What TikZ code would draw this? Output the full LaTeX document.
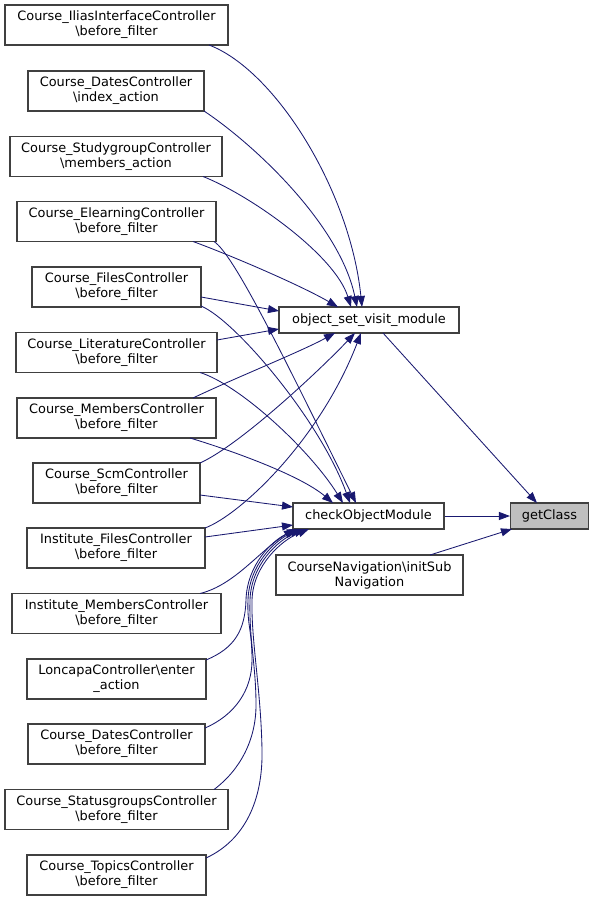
\documentclass[tikz,border=0pt]{standalone}
\usepackage{fontspec}
\setmainfont{DejaVu Sans}
\usetikzlibrary{arrows.meta,calc}
\definecolor{edgeblue}{HTML}{191970}
\definecolor{boxborder}{HTML}{404040}
\definecolor{hlfill}{HTML}{BFBFBF}
\tikzset{
  fn/.style={draw=boxborder, line width=1.1pt, fill=white, inner sep=0pt, align=center,
    font=\fontsize{12.9}{15}\selectfont},
  twoline/.style={fn, minimum height=40pt},
  oneline/.style={fn, minimum height=26pt},
  edge/.style={draw=edgeblue, line width=0.85pt, -{Triangle[length=11pt,width=8pt]}, fill=none},
}
\begin{document}
\begin{tikzpicture}[x=1pt,y=-1pt]
\path[use as bounding box, fill=white] (0,0) rectangle (595,901);

\node[twoline, minimum width=223pt] (n1) at (116.5,25) {Course\_IliasInterfaceController\\\textbackslash before\_filter};
\node[twoline, minimum width=176pt] (n2) at (116,91) {Course\_DatesController\\\textbackslash index\_action};
\node[twoline, minimum width=212pt] (n3) at (116,156.5) {Course\_StudygroupController\\\textbackslash members\_action};
\node[twoline, minimum width=199pt] (n4) at (116.5,221.5) {Course\_ElearningController\\\textbackslash before\_filter};
\node[twoline, minimum width=169pt] (n5) at (116.5,287) {Course\_FilesController\\\textbackslash before\_filter};
\node[twoline, minimum width=201pt] (n6) at (116.5,352.5) {Course\_LiteratureController\\\textbackslash before\_filter};
\node[twoline, minimum width=199pt] (n7) at (116.5,418) {Course\_MembersController\\\textbackslash before\_filter};
\node[twoline, minimum width=167pt] (n8) at (116.5,483) {Course\_ScmController\\\textbackslash before\_filter};
\node[twoline, minimum width=178pt] (n9) at (116,548) {Institute\_FilesController\\\textbackslash before\_filter};
\node[twoline, minimum width=209pt] (n10) at (116.5,613.5) {Institute\_MembersController\\\textbackslash before\_filter};
\node[twoline, minimum width=179pt] (n11) at (116.5,679) {LoncapaController\textbackslash enter\\\_action};
\node[twoline, minimum width=177pt] (n12) at (116.5,744) {Course\_DatesController\\\textbackslash before\_filter};
\node[twoline, minimum width=223pt] (n13) at (116.5,809.5) {Course\_StatusgroupsController\\\textbackslash before\_filter};
\node[twoline, minimum width=179pt] (n14) at (116.5,875) {Course\_TopicsController\\\textbackslash before\_filter};

\node[oneline, minimum width=180pt] (osvm) at (369,320) {object\_set\_visit\_module};
\node[oneline, minimum width=151pt] (com) at (368.5,516) {checkObjectModule};
\node[oneline, minimum width=78pt, fill=hlfill] (gc) at (549.5,516) {getClass};
\node[twoline, minimum width=187pt] (nav) at (369.5,575) {CourseNavigation\textbackslash initSub\\Navigation};

% edges to object_set_visit_module
\draw[edge] ($(n1)+(92.5,20)$) .. controls (275,70) and (350,190) .. ($(osvm)+(-7,-13)$);
\draw[edge] ($(n2)+(88,20)$) .. controls (255,145) and (340,225) .. ($(osvm)+(-12,-13)$);
\draw[edge] ($(n3)+(87,20)$) .. controls (250,195) and (335,255) .. ($(osvm)+(-18,-13)$);
\draw[edge] ($(n4)+(76.5,20)$) .. controls (230,255) and (300,285) .. ($(osvm)+(-31,-13)$);
\draw[edge] ($(n5)+(84.5,10)$) -- ($(osvm)+(-90,-9)$);
\draw[edge] ($(n6)+(100.5,-12.5)$) -- ($(osvm)+(-90,9)$);
\draw[edge] ($(n7)+(76.5,-20)$) .. controls (235,378) and (300,352) .. ($(osvm)+(-34,13)$);
\draw[edge] ($(n8)+(83.5,-20)$) .. controls (240,445) and (320,370) .. ($(osvm)+(-14,13)$);
\draw[edge] ($(n9)+(89,-20)$) .. controls (240,515) and (320,440) .. ($(osvm)+(-8,13)$);

% edges to checkObjectModule
\draw[edge] ($(n4)+(97.5,20)$) .. controls (235,255) and (290,370) .. ($(com)+(-12.5,-13)$);
\draw[edge] ($(n5)+(84.5,19)$) .. controls (235,320) and (320,420) .. ($(com)+(-18.5,-13)$);
\draw[edge] ($(n6)+(83.5,20)$) .. controls (240,385) and (310,450) .. ($(com)+(-25.5,-13)$);
\draw[edge] ($(n7)+(73.5,20)$) .. controls (230,450) and (300,475) .. ($(com)+(-35.5,-13)$);
\draw[edge] ($(n8)+(83.5,12)$) -- ($(com)+(-75.5,-9)$);
\draw[edge] ($(n9)+(89,-11)$) -- ($(com)+(-75.5,9)$);
\draw[edge] ($(n10)+(83.5,-20)$) .. controls (235,585) and (260,550) .. ($(com)+(-73.5,13)$);
\draw[edge] ($(n11)+(89.5,-19)$) .. controls (235,648) and (245,630) .. (246,600)
   .. controls (247,565) and (272,540) .. ($(com)+(-70.5,13)$);
\draw[edge] ($(n12)+(88.5,-16)$) .. controls (235,715) and (252,690) .. (252,660)
   .. controls (252,630) and (247,625) .. (248,600)
   .. controls (249,565) and (275,540) .. ($(com)+(-67.5,13)$);
\draw[edge] ($(n13)+(97.5,-20)$) .. controls (240,770) and (256,740) .. (256,705)
   .. controls (256,665) and (249,640) .. (250,600)
   .. controls (251,565) and (278,540) .. ($(com)+(-63.5,13)$);
\draw[edge] ($(n14)+(89.5,-17)$) .. controls (245,840) and (263,800) .. (262,750)
   .. controls (261,690) and (251,640) .. (252,600)
   .. controls (253,565) and (282,540) .. ($(com)+(-59.5,13)$);

% edges to getClass
\draw[edge] ($(osvm)+(14,13)$) -- ($(gc)+(-12.5,-13)$);
\draw[edge] (com.east) -- (gc.west);
\draw[edge] ($(nav)+(60.5,-20)$) -- ($(gc)+(-37.5,13)$);
\end{tikzpicture}
\end{document}
